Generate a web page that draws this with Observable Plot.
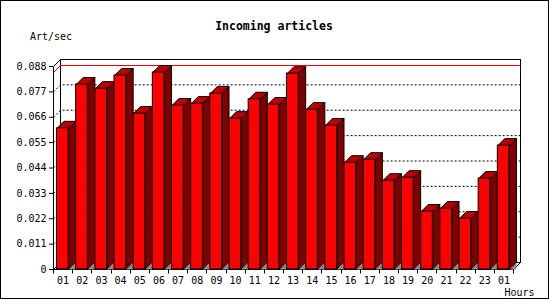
<!DOCTYPE html>
<html>
<head>
<meta charset="utf-8">
<script src="https://cdn.jsdelivr.net/npm/d3@7"></script>
<script src="https://cdn.jsdelivr.net/npm/@observablehq/plot@0.6"></script>
<style>
  html, body { margin: 0; padding: 0; background: #fff; }
</style>
</head>
<body>
<div id="chart"></div>
<script>
// ---- data ----
const hours = ["01","02","03","04","05","06","07","08","09","10","11","12",
               "13","14","15","16","17","18","19","20","21","22","23","01"];
const rates = [0.0612, 0.0802, 0.0784, 0.0841, 0.0676, 0.0854, 0.0711, 0.0719,
               0.0763, 0.0654, 0.0738, 0.0715, 0.0849, 0.0693, 0.0624, 0.0463,
               0.0476, 0.0385, 0.0398, 0.0251, 0.0264, 0.0221, 0.0394, 0.0537];
const yTicks = [0, 0.011, 0.022, 0.033, 0.044, 0.055, 0.066, 0.077, 0.088];
const titleText = "Incoming articles";
const yLabelText = "Art/sec";
const xLabelText = "Hours";

// ---- styling constants ----
const DEPTH = 7;
const FONT = "DejaVu Sans Mono";
const INSET_L = 3.5, INSET_R = 4;
const FRONT = "#ff0000", TOP = "#c00000", SIDE = "#800000", SHADOW = "#8c8c8c";

const data = rates.map((v, i) => ({i, v}));
const maxRate = d3.max(rates);

const NS = "http://www.w3.org/2000/svg";
function el(tag, attrs, parent) {
  const e = document.createElementNS(NS, tag);
  for (const k in attrs) e.setAttribute(k, attrs[k]);
  if (parent) parent.appendChild(e);
  return e;
}
const pts = a => a.map(p => p.join(",")).join(" ");

// back wall, grid, max line, frame (behind bars)
function walls(index, scales) {
  const {x, y} = scales;
  const g = el("g", {transform: "translate(0.5,0.5)"});
  const [xa, xb] = x.range();
  const x0 = Math.round(xa), x1 = Math.round(xb);
  const yTop = y(yTicks[yTicks.length - 1]), y0 = y(0);
  el("rect", {x: x0 + DEPTH, y: yTop - DEPTH, width: x1 - x0, height: y0 - yTop,
              fill: "#fff", stroke: "#000"}, g);
  for (const t of yTicks) {
    if (t === 0 || t === yTicks[yTicks.length - 1]) continue;
    const yy = y(t);
    el("polyline", {points: pts([[x0, yy], [x0 + DEPTH, yy - DEPTH], [x1 + DEPTH, yy - DEPTH]]),
                    fill: "none", stroke: "#000", "stroke-dasharray": "2,2"}, g);
  }
  const ym = Math.round(y(maxRate));
  el("polyline", {points: pts([[x0, ym], [x0 + DEPTH, ym - DEPTH], [x1 + DEPTH, ym - DEPTH]]),
                  fill: "none", stroke: "#ff0000"}, g);
  // left wall / floor edges
  el("line", {x1: x0, y1: yTop, x2: x0 + DEPTH, y2: yTop - DEPTH, stroke: "#000"}, g);
  el("line", {x1: x0, y1: y0, x2: x0 + DEPTH, y2: y0 - DEPTH, stroke: "#000"}, g);
  el("line", {x1: x1, y1: y0, x2: x1 + DEPTH, y2: y0 - DEPTH, stroke: "#000"}, g);
  el("line", {x1: x0, y1: yTop, x2: x0, y2: y0, stroke: "#000"}, g);
  el("line", {x1: x0, y1: y0, x2: x1, y2: y0, stroke: "#000"}, g);
  return g;
}

// side and top faces of each bar, plus floor shadow
function barDepth(index, scales) {
  const {x, y} = scales;
  const g = el("g", {transform: "translate(0.5,0.5)"});
  const bw = x.bandwidth();
  const y0 = y(0);
  for (const d of data) {
    const fx0 = x(d.i) + INSET_L, fx1 = x(d.i) + bw - INSET_R, yt = y(d.v);
    el("polygon", {points: pts([[fx1, yt], [fx1 + DEPTH, yt - DEPTH], [fx1 + DEPTH, y0 - DEPTH], [fx1, y0]]),
                   fill: SIDE, stroke: "#000", "stroke-linejoin": "miter"}, g);
    el("polygon", {points: pts([[fx1, y0], [fx1 + DEPTH, y0 - DEPTH], [fx1 + DEPTH, y0]]),
                   fill: SHADOW, stroke: "none"}, g);
    el("polygon", {points: pts([[fx0, yt], [fx1, yt], [fx1 + DEPTH, yt - DEPTH], [fx0 + DEPTH, yt - DEPTH]]),
                   fill: TOP, stroke: "#000", "stroke-linejoin": "miter"}, g);
  }
  return g;
}

// front x-axis ticks at band boundaries, labels, border
function overlay(index, scales, values, dim) {
  const {x, y} = scales;
  const g = el("g", {});
  const ga = el("g", {transform: "translate(0.5,0.5)"}, g);
  const bw = x.bandwidth();
  const y0 = y(0);
  const dom = x.domain();
  const bounds = dom.map(i => x(i)).concat([x(dom[dom.length - 1]) + bw]);
  for (const b of bounds) {
    const bx = Math.round(b);
    el("line", {x1: bx, y1: y0, x2: bx, y2: y0 + 4, stroke: "#000"}, ga);
  }
  el("rect", {x: 0.5, y: 0.5, width: dim.width - 2, height: dim.height - 2, fill: "none", stroke: "#000"}, g);
  const t = el("text", {x: dim.width / 2 - 1, y: 30, "text-anchor": "middle", "font-family": FONT,
                        "font-size": "11.5px", "font-weight": "bold", fill: "#000"}, g);
  t.textContent = titleText;
  const yl = el("text", {x: 30, y: 40, "text-anchor": "start", "font-family": FONT, "font-size": "10px", fill: "#000"}, g);
  yl.textContent = yLabelText;
  const xl = el("text", {x: 534.5, y: 296, "text-anchor": "end", "font-family": FONT, "font-size": "10px", fill: "#000"}, g);
  xl.textContent = xLabelText;
  return g;
}

const chart = Plot.plot({
  width: 550,
  height: 300,
  marginTop: 66,
  marginBottom: 31,
  marginLeft: 53,
  marginRight: 37,
  style: {fontFamily: FONT, fontSize: "10px", background: "#fff", color: "#000", overflow: "visible"},
  x: {type: "band", domain: d3.range(hours.length), padding: 0, round: false,
      tickFormat: i => hours[i], tickSize: 0, tickPadding: 7, label: null},
  y: {domain: [0, yTicks[yTicks.length - 1]], ticks: yTicks,
      tickFormat: d => d === 0 ? "0" : d.toFixed(3), tickSize: 4, tickPadding: 3, label: null},
  marks: [
    walls,
    barDepth,
    Plot.barY(data, {x: "i", y: "v", fill: FRONT, stroke: "#000", insetLeft: INSET_L, insetRight: INSET_R}),
    overlay
  ]
});
document.getElementById("chart").appendChild(chart);
</script>
</body>
</html>
